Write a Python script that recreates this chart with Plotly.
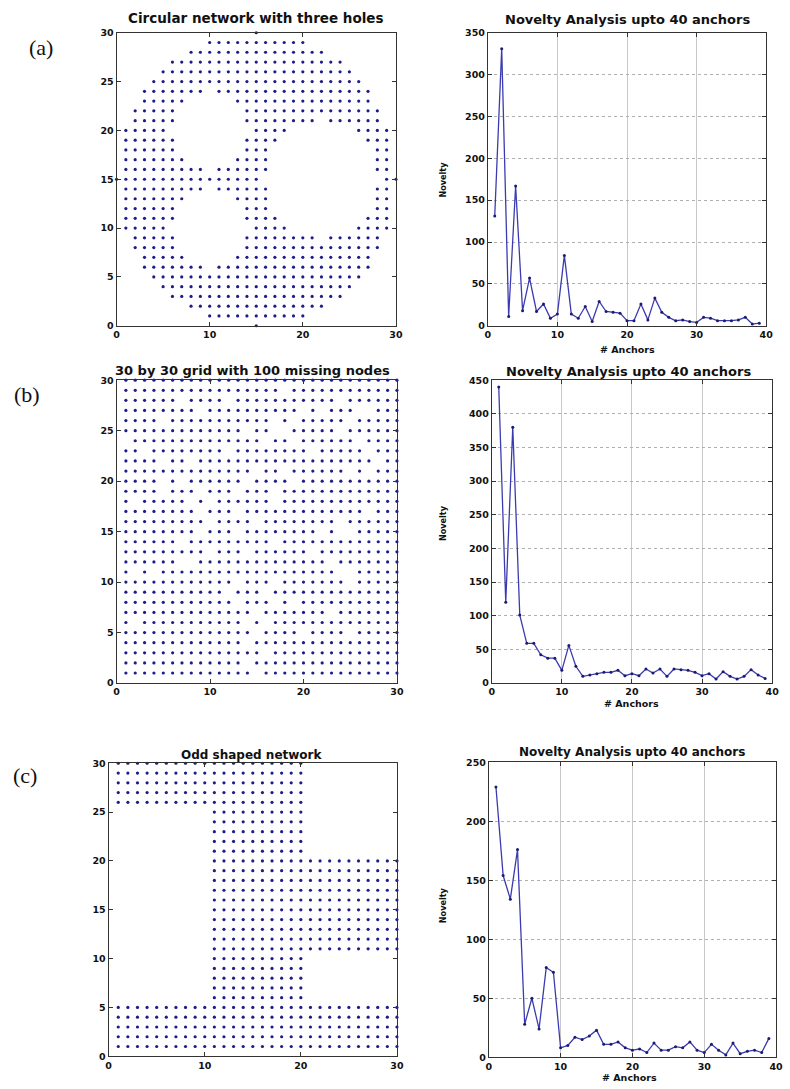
import plotly.graph_objects as go

W, H = 790, 1089

# ---------------- data ----------------
# (a) circular network with three holes: node rows -> x spans
circ_rows = {
    30: [(15, 15)],
    29: [(10, 20)],
    28: [(8, 22)],
    27: [(6, 24)],
    26: [(5, 25)],
    25: [(4, 26)],
    24: [(3, 9), (11, 27)],
    23: [(3, 7), (13, 27)],
    22: [(2, 6), (14, 28)],
    21: [(2, 6), (14, 21), (23, 28)],
    20: [(1, 5), (15, 18), (26, 29)],
    19: [(1, 6), (14, 17), (27, 29)],
    18: [(1, 6), (14, 16), (28, 29)],
    17: [(1, 7), (13, 16), (28, 29)],
    16: [(1, 9), (11, 16), (28, 29)],
    15: [(0, 15), (29, 30)],
    14: [(1, 9), (11, 16), (28, 29)],
    13: [(1, 7), (13, 16), (28, 29)],
    12: [(1, 6), (14, 16), (28, 29)],
    11: [(1, 6), (14, 17), (27, 29)],
    10: [(1, 5), (15, 18), (26, 29)],
    9: [(2, 6), (14, 21), (23, 28)],
    8: [(2, 6), (14, 28)],
    7: [(3, 7), (13, 27)],
    6: [(3, 9), (11, 27)],
    5: [(4, 26)],
    4: [(5, 25)],
    3: [(6, 24)],
    2: [(8, 22)],
    1: [(10, 20)],
    0: [(15, 15)],
}

# (b) 30 by 30 grid: missing nodes per row (y -> list of missing x)
grid_missing = {
    29: [18],
    28: [7, 12, 24],
    27: [9, 20, 22, 26, 27],
    26: [5, 17, 19, 25],
    25: [14, 17, 18, 24],
    24: [1, 16, 19, 26],
    23: [3, 12, 21, 27],
    22: [5, 8, 28],
    21: [15, 18, 25, 27],
    20: [5, 7, 14, 19],
    19: [5, 9, 13, 17],
    18: [2, 8, 10, 17],
    17: [9, 13, 27],
    16: [10, 15, 24],
    15: [9, 13, 22, 24, 25],
    14: [7, 17],
    13: [10, 14, 21],
    12: [7, 8, 23],
    11: [2, 4, 24, 25],
    10: [13, 17, 25],
    9: [12, 16],
    8: [13, 17, 19],
    7: [15, 23],
    6: [2, 14, 16],
    5: [15, 20, 25],
    4: [14],
    3: [16],
    2: [14],
    1: [15],
}
grid_size = 30

# (c) odd shaped network: blocks (x0, x1, y0, y1)
odd_blocks = [
    (1, 20, 26, 30),
    (11, 20, 6, 25),
    (21, 30, 11, 20),
    (1, 30, 1, 5),
]

anchors = list(range(1, 40))
novelty_a = [131, 331, 11, 167, 18, 57, 17, 26, 9, 14, 84, 14, 9, 23, 5, 29, 17, 16, 15, 6,
             6, 26, 7, 33, 16, 10, 6, 7, 5, 4, 10, 9, 6, 6, 6, 7, 10, 2, 3]
novelty_b = [440, 120, 380, 101, 59, 59, 42, 37, 37, 19, 56, 25, 10, 12, 14, 16, 16, 19, 11, 14,
             11, 21, 15, 21, 10, 21, 20, 19, 16, 11, 14, 6, 17, 10, 6, 10, 20, 12, 7]
novelty_c = [229, 154, 134, 176, 28, 50, 24, 76, 72, 8, 10, 17, 15, 18, 23, 11, 11, 13, 8, 6,
             7, 4, 12, 6, 6, 9, 8, 13, 6, 4, 11, 6, 2, 12, 3, 5, 6, 4, 16]

titles_left = ["Circular network with three holes", "30 by 30 grid with 100 missing nodes",
               "Odd shaped network"]
title_right = "Novelty Analysis upto 40 anchors"
panel_labels = ["(a)", "(b)", "(c)"]

# ---------------- build node lists ----------------
def rows_to_xy(rows):
    xs, ys = [], []
    for y, spans in rows.items():
        for a, b in spans:
            for x in range(a, b + 1):
                xs.append(x)
                ys.append(y)
    return xs, ys

ax_x, ax_y = rows_to_xy(circ_rows)

bx, by = [], []
for y in range(1, grid_size + 1):
    miss = grid_missing.get(y, [])
    for x in range(1, grid_size + 1):
        if x not in miss:
            bx.append(x)
            by.append(y)

cx, cy = [], []
for x0, x1, y0, y1 in odd_blocks:
    for y in range(y0, y1 + 1):
        for x in range(x0, x1 + 1):
            cx.append(x)
            cy.append(y)

# ---------------- layout helpers ----------------
def xd(p0, p1):
    return [p0 / W, p1 / W]

def yd(top, bottom):
    return [1 - bottom / H, 1 - top / H]

boxes = [
    (115, 398, 27, 323),   # a left
    (491, 773, 27, 323),   # a right
    (115, 399, 378, 684),  # b left
    (495, 779, 378, 684),  # b right
    (107, 399, 765, 1061), # c left
    (492, 783, 764, 1062), # c right
]

DOT = "#1c1c8a"
LINE = "#3b3bb0"
AXC = "#333333"
tickfont = dict(family="DejaVu Sans", size=9.5, color="#111111", weight="bold")

fig = go.Figure()

net_data = [(ax_x, ax_y), (bx, by), (cx, cy)]
nov_data = [novelty_a, novelty_b, novelty_c]
ymax = [350, 450, 250]

for i in range(3):
    li = 2 * i + 1
    ri = 2 * i + 2
    xs, ys = net_data[i]
    fig.add_trace(go.Scatter(x=xs, y=ys, mode="markers", xaxis=f"x{li}", yaxis=f"y{li}",
                             marker=dict(size=3.2, color=DOT), cliponaxis=False,
                             showlegend=False, hoverinfo="skip"))
    fig.add_trace(go.Scatter(x=anchors, y=nov_data[i], mode="lines+markers",
                             xaxis=f"x{ri}", yaxis=f"y{ri}",
                             line=dict(color=LINE, width=1.3),
                             marker=dict(size=3, color="#1c1c6e"), cliponaxis=False,
                             showlegend=False, hoverinfo="skip"))

layout = dict(
    width=W, height=H, margin=dict(l=0, r=0, t=0, b=0),
    paper_bgcolor="white", plot_bgcolor="white", showlegend=False,
)

common = dict(showline=True, mirror="ticks", linecolor=AXC, linewidth=1,
              ticks="inside", ticklen=4, tickcolor=AXC, tickfont=tickfont,
              zeroline=False)

for k, (x0, x1, y0, y1) in enumerate(boxes):
    n = k + 1
    right = (k % 2 == 1)
    row = k // 2
    xkey = "xaxis" if n == 1 else f"xaxis{n}"
    ykey = "yaxis" if n == 1 else f"yaxis{n}"
    if right:
        xa = dict(domain=xd(x0, x1), anchor=f"y{n}", range=[0, 40], tickvals=[0, 10, 20, 30, 40],
                  showgrid=True, gridcolor="#c8c8c8", griddash="solid", gridwidth=1, **common)
        ya = dict(domain=yd(y0, y1), anchor=f"x{n}", range=[0, ymax[row]], dtick=50,
                  showgrid=True, gridcolor="#b0b0b0", griddash="dot", gridwidth=1, **common)
    else:
        xa = dict(domain=xd(x0, x1), anchor=f"y{n}", range=[0, 30], tickvals=[0, 10, 20, 30],
                  showgrid=False, **common)
        ya = dict(domain=yd(y0, y1), anchor=f"x{n}", range=[0, 30], dtick=5,
                  showgrid=False, **common)
    layout[xkey] = xa
    layout[ykey] = ya

annotations = []
left_title_pos = [(256, 12), (253, 368), (252, 757)]
right_title_pos = [(632, 14), (634, 369), (637, 754)]
left_title_size = [13.5, 13, 12]
right_title_size = [13, 13, 12]
for i in range(3):
    tx, ty = left_title_pos[i]
    annotations.append(dict(x=tx / W, y=1 - ty / H, xref="paper", yref="paper", text=titles_left[i],
                            showarrow=False, xanchor="center", yanchor="middle",
                            font=dict(family="DejaVu Sans", size=left_title_size[i],
                                      color="#111111", weight="bold")))
    tx, ty = right_title_pos[i]
    annotations.append(dict(x=tx / W, y=1 - ty / H, xref="paper", yref="paper", text=title_right,
                            showarrow=False, xanchor="center", yanchor="middle",
                            font=dict(family="DejaVu Sans", size=right_title_size[i],
                                      color="#111111", weight="bold")))

nov_pos = [(446, 175), (445, 522), (445, 908)]
anc_pos = [(632, 347), (637, 705), (635, 1082)]
for i in range(3):
    px, py = nov_pos[i]
    annotations.append(dict(x=px / W, y=1 - py / H, xref="paper", yref="paper", text="Novelty",
                            showarrow=False, textangle=-90, xanchor="center", yanchor="middle",
                            font=dict(family="DejaVu Sans Condensed", size=9, color="#111111",
                                      weight="bold")))
    px, py = anc_pos[i]
    annotations.append(dict(x=px / W, y=1 - py / H, xref="paper", yref="paper", text="# Anchors",
                            showarrow=False, xanchor="center", yanchor="middle",
                            font=dict(family="DejaVu Sans", size=9.5, color="#111111",
                                      weight="bold")))

lab_pos = [(38, 42), (24, 392), (22, 777)]
for i in range(3):
    px, py = lab_pos[i]
    annotations.append(dict(x=px / W, y=1 - py / H, xref="paper", yref="paper", text=panel_labels[i],
                            showarrow=False, xanchor="center", yanchor="middle",
                            font=dict(family="Liberation Serif", size=22, color="#111111")))

layout["annotations"] = annotations
fig.update_layout(**layout)
fig.write_html("out.html")
